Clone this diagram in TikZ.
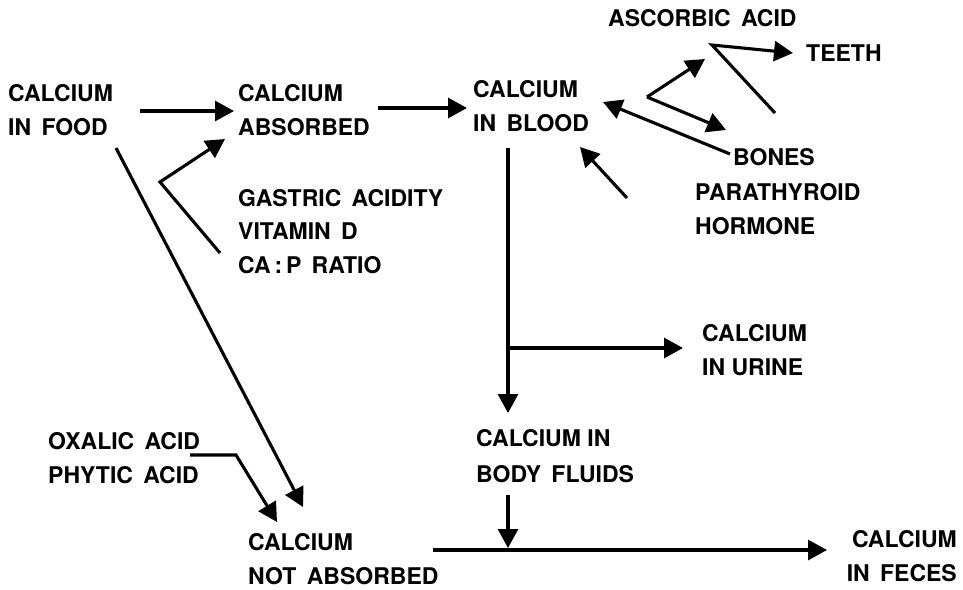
\documentclass[tikz,border=0pt]{standalone}
\usepackage{fontspec}
\newfontfamily\labfont{TeX Gyre Heros}
\usetikzlibrary{arrows.meta}
\newcommand\wsp{\hspace{0.45em}}
\begin{document}
\begin{tikzpicture}[x=1pt,y=-1pt,
  lab/.style={anchor=west,inner sep=0pt,align=left,font=\labfont\bfseries\fontsize{23}{34}\selectfont},
  conn/.style={line width=3.1pt},
  arr/.style={conn,-{Triangle[length=19pt,width=20pt]}}]
\useasboundingbox[fill=white] (0,0) rectangle (963,589);

% labels
\node[lab] (food) at (8,110) {CALCIUM\\IN\wsp FOOD};
\node[lab] (abs) at (238,110) {CALCIUM\\ABSORBED};
\node[lab] (blood) at (473,106.5) {CALCIUM\\IN\wsp BLOOD};
\node[lab] (asc) at (608,18) {ASCORBIC\wsp ACID};
\node[lab] (teeth) at (806,53) {TEETH};
\node[lab] (bones) at (733,157) {BONES};
\node[lab] (pth) at (695,209.5) {PARATHYROID\\HORMONE};
\node[lab,font=\labfont\bfseries\fontsize{23}{33.5}\selectfont] (gast) at (238,231.5) {GASTRIC\wsp ACIDITY\\VITAMIN\wsp D\\CA\,:\,P\wsp RATIO};
\node[lab] (urine) at (702,350.5) {CALCIUM\\IN URINE};
\node[lab,font=\labfont\bfseries\fontsize{23}{36}\selectfont] (fluids) at (476,456) {CALCIUM IN\\BODY\wsp FLUIDS};
\node[lab] (oxalic) at (48,458.5) {OXALIC\wsp ACID\\PHYTIC\wsp ACID};
\node[lab] (notabs) at (248,559) {CALCIUM\\NOT\wsp ABSORBED};
\node[lab,anchor=east,align=right] (feces) at (957,556.5) {CALCIUM\\IN\wsp FECES};

% connector end points
\coordinate (f1) at (140,111); \coordinate (f2) at (234,111);
\coordinate (a1) at (378,108); \coordinate (a2) at (467,108);
\coordinate (g0) at (220,253); \coordinate (g1) at (160,182); \coordinate (g2) at (225,139);
\coordinate (d0) at (116,148); \coordinate (d1) at (303,507);
\coordinate (o0) at (190,455); \coordinate (o1) at (236,455); \coordinate (o2) at (277,522);
\coordinate (v0) at (508,148); \coordinate (v1) at (508,413);
\coordinate (u0) at (508,348); \coordinate (u1) at (683,348);
\coordinate (w0) at (508,495); \coordinate (w1) at (508,548);
\coordinate (h0) at (433,550); \coordinate (h1) at (827,550);
\coordinate (k0) at (647,97); \coordinate (k1) at (705,59); \coordinate (k2) at (726,130);
\coordinate (s0) at (775,113); \coordinate (s1) at (712,45); \coordinate (s2) at (793,53);
\coordinate (b0) at (730,154); \coordinate (b1) at (603,102);
\coordinate (p0) at (627,198); \coordinate (p1) at (580,147);

% connectors
\draw[arr] (f1) -- (f2);
\draw[arr] (a1) -- (a2);
\draw[arr] (g0) -- (g1) -- (g2);
\draw[arr] (d0) -- (d1);
\draw[arr] (o0) -- (o1) -- (o2);
\draw[arr] (v0) -- (v1);
\draw[arr] (u0) -- (u1);
\draw[arr] (w0) -- (w1);
\draw[arr] (h0) -- (h1);
\draw[arr] (k0) -- (k1);
\draw[arr] (k0) -- (k2);
\draw[arr] (s0) -- (s1) -- (s2);
\draw[arr] (b0) -- (b1);
\draw[arr] (p0) -- (p1);
\end{tikzpicture}
\end{document}
